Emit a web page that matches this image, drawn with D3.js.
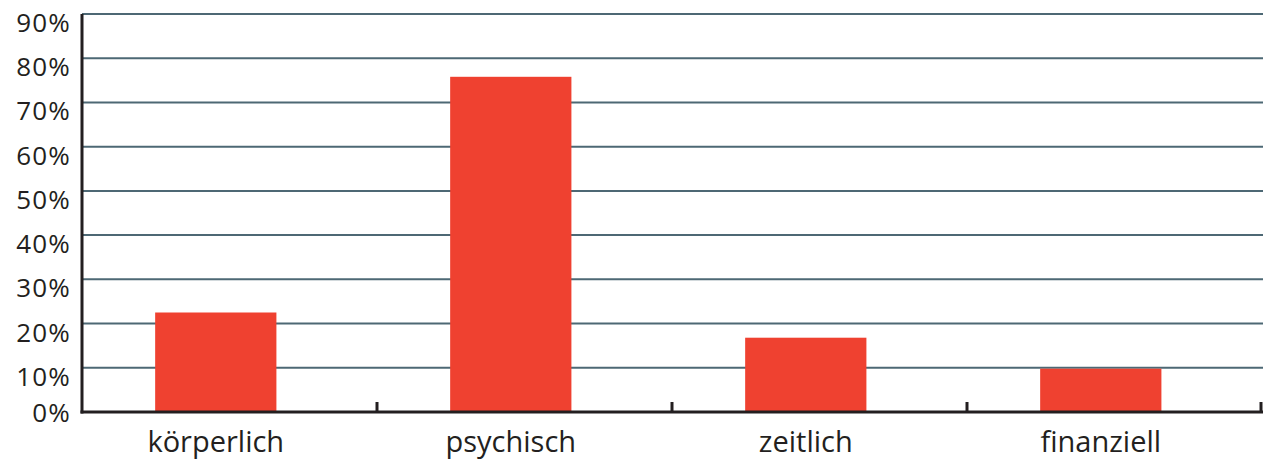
<!DOCTYPE html>
<html><head><meta charset="utf-8">
<script src="https://cdn.jsdelivr.net/npm/d3@7"></script>
<style>body{margin:0;background:#fff}svg{display:block}text{font-family:"Open Sans",sans-serif;fill:#231f20}</style>
</head><body><svg id="c" width="1268" height="459"></svg>
<script>
const categories = ["körperlich","psychisch","zeitlich","finanziell"];
const values = [22.5, 75.8, 16.8, 9.8];
const yTicks = [0,10,20,30,40,50,60,70,80,90];
const yTickLabels = ["0%","10%","20%","30%","40%","50%","60%","70%","80%","90%"];

const svg = d3.select("#c");
const x = d3.scaleBand().domain(categories).range([82, 1262]);
const y = d3.scaleLinear().domain([0, 90]).range([412, 14]);

// gridlines
svg.append("g").selectAll("line").data(yTicks.filter(t => t > 0)).join("line")
  .attr("x1", 82).attr("x2", 1263)
  .attr("y1", d => y(d)).attr("y2", d => y(d))
  .attr("stroke", "#4d6874").attr("stroke-width", 2);

// bars
const bw = x.bandwidth();
svg.append("g").selectAll("rect").data(categories).join("rect")
  .attr("x", d => x(d) + bw * 0.248)
  .attr("width", bw * 0.411)
  .attr("y", (d, i) => y(values[i]))
  .attr("height", (d, i) => y(0) - y(values[i]))
  .attr("fill", "#ef4130");

// y tick labels
svg.append("g").selectAll("text").data(yTicks).join("text")
  .attr("x", 71)
  .attr("y", d => d === 0 ? y(d) + 10 : y(d) + 18)
  .attr("text-anchor", "end")
  .attr("font-size", 26)
  .attr("letter-spacing", 1.2)
  .text((d, i) => yTickLabels[i]);

// axes
svg.append("line").attr("x1", 82).attr("x2", 82).attr("y1", 14).attr("y2", 413.5)
  .attr("stroke", "#231f20").attr("stroke-width", 3);
svg.append("line").attr("x1", 80.5).attr("x2", 1263).attr("y1", 412).attr("y2", 412)
  .attr("stroke", "#231f20").attr("stroke-width", 3);
// category separator ticks (upward)
svg.append("g").selectAll("line").data(categories).join("line")
  .attr("x1", d => x(d) + bw - (d === categories[categories.length-1] ? 1 : 0))
  .attr("x2", d => x(d) + bw - (d === categories[categories.length-1] ? 1 : 0))
  .attr("y1", 402).attr("y2", 412)
  .attr("stroke", "#231f20").attr("stroke-width", 3);

// category labels
svg.append("g").selectAll("text").data(categories).join("text")
  .attr("x", d => x(d) + bw * (0.248 + 0.411 / 2))
  .attr("y", 452)
  .attr("text-anchor", "middle")
  .attr("font-size", 29)
  .text(d => d);
</script></body></html>
